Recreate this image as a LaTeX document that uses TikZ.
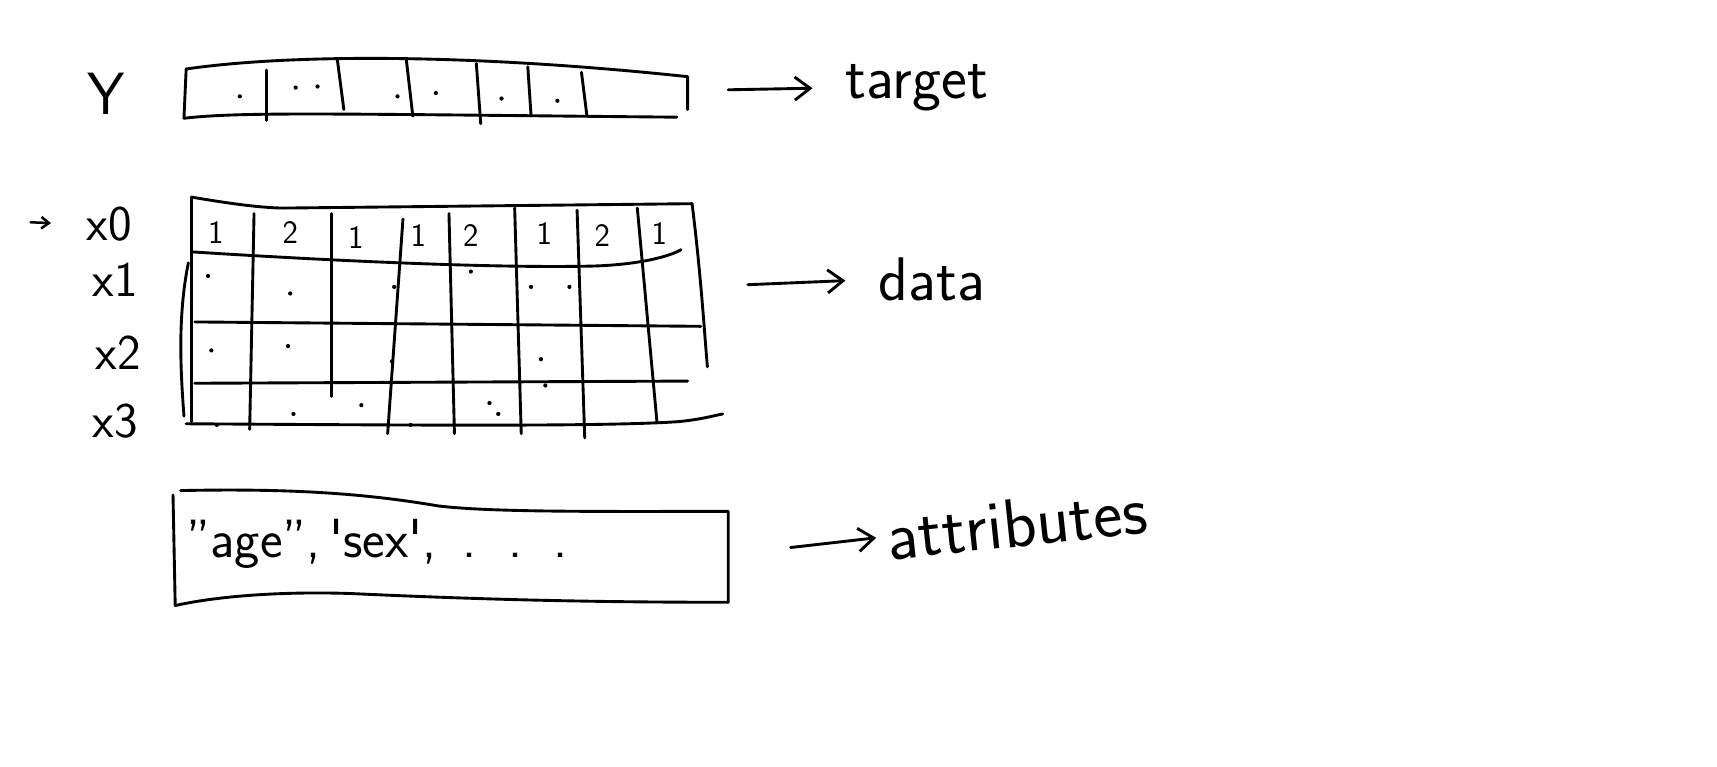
\documentclass[tikz,border=0pt]{standalone}
\usepackage{tikz}
\usetikzlibrary{arrows.meta,positioning,calc}

\begin{document}
\begin{tikzpicture}[
    x=0.02cm, y=-0.02cm,
    line cap=round, line join=round,
    font=\sffamily,
    pen/.style={draw=black, line width=1.5pt},
    lbl/.style={font=\sffamily\fontsize{32}{38}\selectfont, inner sep=0pt, anchor=west},
    rowlbl/.style={font=\sffamily\fontsize{26}{30}\selectfont, inner sep=0pt},
    cell/.style={font=\sffamily\fontsize{17}{20}\selectfont, inner sep=0pt},
    to/.style={-{Straight Barb[length=8pt,width=12pt]}, line width=1.5pt},
    speck/.style={fill=black, inner sep=0pt, minimum size=2.2pt, circle}
]
    \useasboundingbox (0,0) rectangle (1568,700);

    % Target row (Y)
    \node[font=\sffamily\fontsize{31}{36}\selectfont, inner sep=0pt] (ylab) at (97,86) {Y};
    \draw[pen] (170,63) .. controls (260,50) and (420,48) .. (628,70) -- (628,100);
    \draw[pen] (168,108) .. controls (220,102) and (300,104) .. (618,107);
    \draw[pen] (170,63) -- (168,108);
    \draw[pen] (243,64) -- (243,110);
    \draw[pen] (308,54) -- (314,100);
    \draw[pen] (371,54) -- (377,106);
    \draw[pen] (435,58) -- (439,113);
    \draw[pen] (482,61) -- (485,106);
    \draw[pen] (531,66) -- (536,106);
    \foreach \p in {(219,88),(270,80),(290,79),(363,88),(398,85),(458,90),(509,92)}
        \node[speck] at \p {};
    \coordinate (yout) at (665,82);
    \node[lbl] (target) at (772,80) {target};
    \draw[to, shorten >=0.6cm] (yout) -- (target.west);

    % Data grid (x0 ... x3)
    \draw[pen] (175,180) .. controls (210,186) and (240,190) .. (260,190) -- (632,186);
    \draw[pen] (175,180) -- (175,385);
    \draw[pen] (172,240) .. controls (162,290) and (165,340) .. (168,380);
    \draw[pen] (632,186) .. controls (640,250) and (643,300) .. (646,335);
    \draw[pen] (175,230) .. controls (300,238) and (450,245) .. (540,243)
        .. controls (580,242) and (610,235) .. (622,228);
    \draw[pen] (178,294) -- (640,298);
    \draw[pen] (178,350) -- (628,348);
    \draw[pen] (170,387) .. controls (350,388) and (550,390) .. (620,385)
        .. controls (640,383) and (650,380) .. (660,378);
    \draw[pen] (232,195) -- (228,392);
    \draw[pen] (303,195) -- (303,362);
    \draw[pen] (368,200) -- (354,396);
    \draw[pen] (410,195) -- (415,396);
    \draw[pen] (470,190) -- (476,396);
    \draw[pen] (527,192) -- (534,400);
    \draw[pen] (582,190) -- (600,386);
    \foreach \xx/\yy/\v in {197/212/1, 265/212/2, 325/217/1, 382/215/1,
                            430/215/2, 497/213/1, 550/215/2, 602/213/1}
        \node[cell] (c\xx) at (\xx,\yy) {\v};
    \foreach \p in {(190,252),(265,268),(360,262),(430,248),(485,262),(520,262),
                    (193,320),(263,316),(358,330),(494,328),(498,352),(447,368),
                    (268,378),(198,388),(330,370),(375,388),(455,378)}
        \node[speck] at \p {};
    \node[rowlbl] (x0) at (100,205) {x0};
    \node[rowlbl] (x1) at (105,255) {x1};
    \node[rowlbl] (x2) at (108,322) {x2};
    \node[rowlbl] (x3) at (105,385) {x3};
    \coordinate (xmark) at (28,203);
    \draw[-{Straight Barb[length=4pt,width=6pt]}, line width=1.3pt, shorten >=0.65cm] (xmark) -- (x0.west);
    \coordinate (gout) at (683,260);
    \node[lbl] (data) at (802,255) {data};
    \draw[to, shorten >=0.6cm] (gout) -- (data.west);

    % Attributes strip
    \draw[pen] (165,448) .. controls (260,446) and (330,450) .. (400,462)
        .. controls (450,468) and (550,467) .. (665,467) -- (665,550);
    \draw[pen] (158,452) -- (160,553);
    \draw[pen] (160,553) .. controls (200,544) and (260,540) .. (320,542)
        .. controls (450,548) and (550,550) .. (665,550);
    \node[font=\sffamily\fontsize{28}{32}\selectfont, inner sep=0pt, anchor=west] (names)
        at (170,497) {"age",\,\textquotesingle sex\textquotesingle,\, .\, .\, .};
    \coordinate (aout) at (722,500);
    \node[lbl, font=\sffamily\fontsize{36}{42}\selectfont, rotate=6] (attr) at (810,490) {attributes};
    \draw[to, shorten >=0.2cm] (aout) -- (attr.west);

\end{tikzpicture}
\end{document}
